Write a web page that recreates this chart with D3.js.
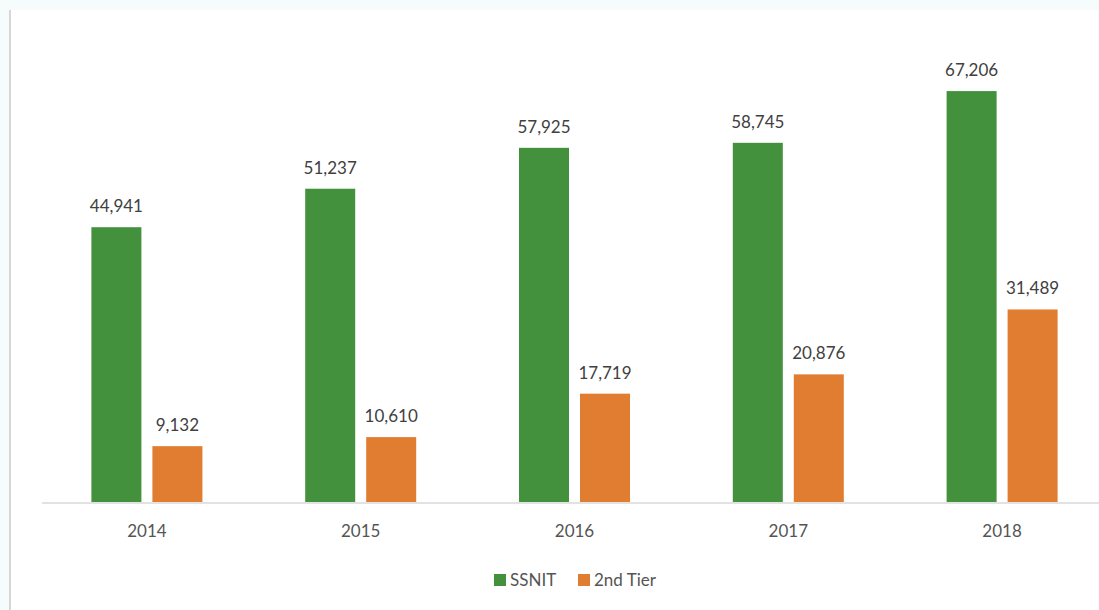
<!DOCTYPE html>
<html>
<head>
<meta charset="utf-8">
<script src="https://cdn.jsdelivr.net/npm/d3@7"></script>
<style>
  body { margin: 0; background: #f6fcfc; }
  svg { display: block; }
</style>
</head>
<body>
<svg id="chart" width="1099" height="610"></svg>
<script>
const years = ["2014", "2015", "2016", "2017", "2018"];
const seriesNames = ["SSNIT", "2nd Tier"];
const ssnit = [44941, 51237, 57925, 58745, 67206];
const secondTier = [9132, 10610, 17719, 20876, 31489];
const colors = ["#43913d", "#e07d31"];

const svg = d3.select("#chart");

// chart panel
svg.append("rect")
    .attr("x", 10).attr("y", 10)
    .attr("width", 1089).attr("height", 600)
    .attr("fill", "#ffffff");
svg.append("line")
    .attr("x1", 10).attr("x2", 10)
    .attr("y1", 10).attr("y2", 610)
    .attr("stroke", "#d6d6d6").attr("stroke-width", 2);

const x = d3.scaleBand()
    .domain(years)
    .range([40, 1109]);

const y = d3.scaleLinear()
    .domain([0, 70000])
    .range([502, 74]);

const data = years.map((yr, i) => ({ year: yr, values: [ssnit[i], secondTier[i]] }));

// baseline
svg.append("line")
    .attr("x1", 42).attr("x2", 1099)
    .attr("y1", y(0) + 1).attr("y2", y(0) + 1)
    .attr("stroke", "#d9d9d9").attr("stroke-width", 1.5);

const barW = 50, gap = 11;
const groups = svg.append("g")
    .selectAll("g")
    .data(data)
    .enter()
    .append("g")
    .attr("transform", d => `translate(${x(d.year) + x.bandwidth() / 2},0)`);

groups.selectAll("rect")
    .data(d => d.values)
    .enter()
    .append("rect")
    .attr("x", (d, i) => i === 0 ? -barW - gap / 2 : gap / 2)
    .attr("y", d => y(d))
    .attr("width", barW)
    .attr("height", d => y(0) - y(d))
    .attr("fill", (d, i) => colors[i]);

groups.selectAll("text.val")
    .data(d => d.values)
    .enter()
    .append("text")
    .attr("class", "val")
    .attr("x", (d, i) => i === 0 ? -barW / 2 - gap / 2 : barW / 2 + gap / 2)
    .attr("y", d => y(d) - 15)
    .attr("text-anchor", "middle")
    .style("font-family", "Lato, 'Open Sans', sans-serif")
    .style("font-size", "17px")
    .style("fill", "#404040")
    .text(d => d3.format(",")(d));

// x axis labels
svg.append("g")
    .selectAll("text")
    .data(years)
    .enter()
    .append("text")
    .attr("x", d => x(d) + x.bandwidth() / 2)
    .attr("y", 537)
    .attr("text-anchor", "middle")
    .style("font-family", "Lato, 'Open Sans', sans-serif")
    .style("font-size", "17px")
    .style("fill", "#555555")
    .text(d => d);

// legend
const legendX = [494, 578];
const legend = svg.append("g")
    .selectAll("g")
    .data(seriesNames)
    .enter()
    .append("g")
    .attr("transform", (d, i) => `translate(${legendX[i]},574)`);
legend.append("rect")
    .attr("width", 12).attr("height", 12)
    .attr("fill", (d, i) => colors[i]);
legend.append("text")
    .attr("x", 16)
    .attr("y", 12)
    .style("font-family", "Lato, 'Open Sans', sans-serif")
    .style("font-size", "17px")
    .style("fill", "#555555")
    .text(d => d);
</script>
</body>
</html>
